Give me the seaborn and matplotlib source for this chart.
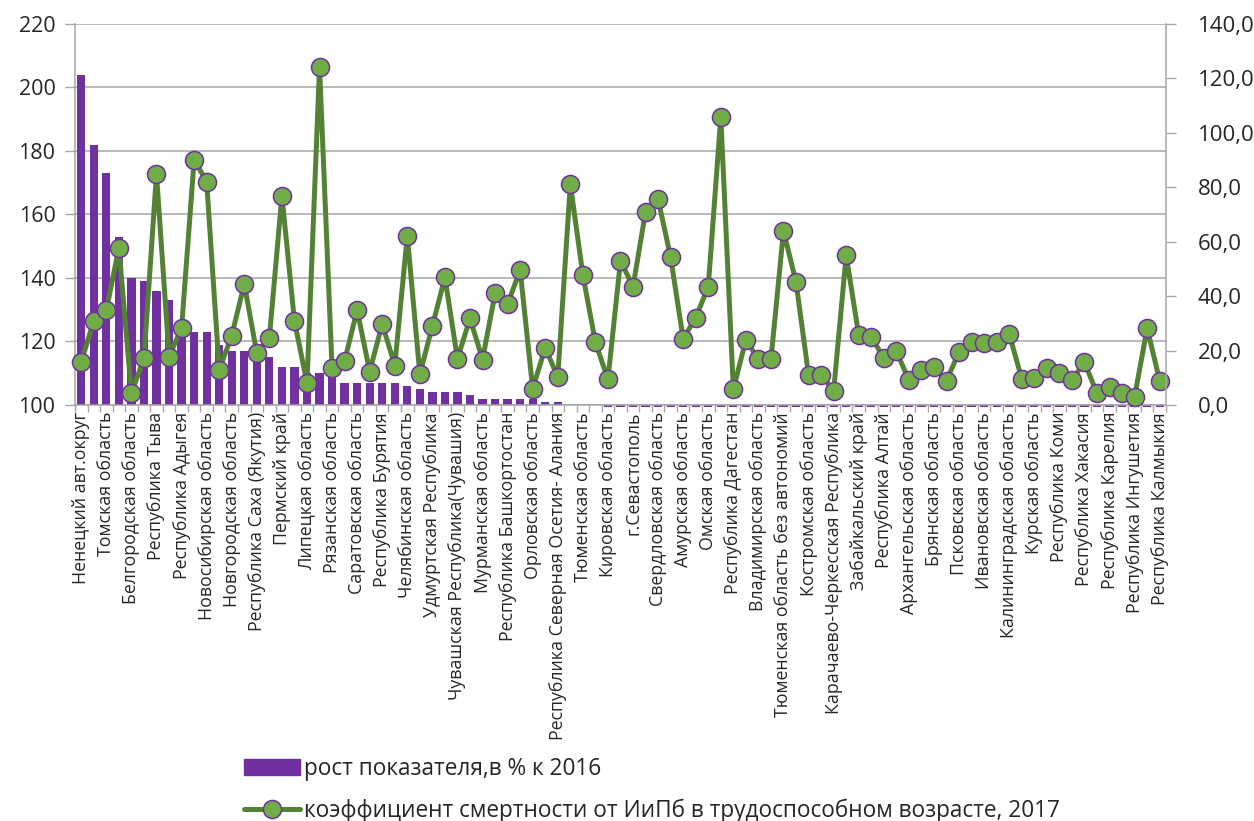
import numpy as np
import matplotlib
matplotlib.use('Agg')
import matplotlib.pyplot as plt
import seaborn as sns
from matplotlib.lines import Line2D
from matplotlib.patches import Patch

# подписи показаны через одну (как в исходной диаграмме)
region_labels = [
    'Ненецкий авт.округ', 'Томская область', 'Белгородская область', 'Республика Тыва',
    'Республика Адыгея', 'Новосибирская область', 'Новгородская область',
    'Республика Саха (Якутия)', 'Пермский край', 'Липецкая область', 'Рязанская область',
    'Саратовская область', 'Республика Бурятия', 'Челябинская область',
    'Удмуртская Республика', 'Чувашская Республика(Чувашия)', 'Мурманская область',
    'Республика Башкортостан', 'Орловская область', 'Республика Северная Осетия- Алания',
    'Тюменская область', 'Кировская область', 'г.Севастополь', 'Свердловская область',
    'Амурская область', 'Омская область', 'Республика Дагестан', 'Владимирская область',
    'Тюменская область без автономий', 'Костромская область',
    'Карачаево-Черкесская Республика', 'Забайкальский край', 'Республика Алтай',
    'Архангельская область', 'Брянская область', 'Псковская область', 'Ивановская область',
    'Калининградская область', 'Курская область', 'Республика Коми', 'Республика Хакасия',
    'Республика Карелия', 'Республика Ингушетия', 'Республика Калмыкия',
]

# рост показателя, % к 2016 (левая ось)
growth_pct = [
    204, 182, 173, 153, 140, 139, 136, 133, 123, 123,
    123, 119, 117, 117, 117, 115, 112, 112, 110, 110,
    110, 107, 107, 107, 107, 107, 106, 105, 104, 104,
    104, 103, 102, 102, 102, 102, 102, 101, 101, 100,
    100, 100, 99.5, 99.5, 99.5, 99.5, 99.5, 99.5, 99.5, 99.5,
    99.5, 99.5, 99.5, 99.5, 99.5, 99.5, 99.5, 99.5, 99.5, 99.5,
    99.5, 99.5, 99.5, 99.5, 99.5, 99.5, 99.5, 99.5, 99.5, 99.5,
    99.5, 99.5, 99.5, 99.5, 99.5, 99.5, 99.5, 99.5, 99.5, 99.5,
    99.5, 99.5, 99.5, 99.5, 99.5, 99.5, 99.5,
]

# коэффициент смертности от ИиПб в трудоспособном возрасте, 2017 (правая ось)
mortality = [
    15.9, 30.9, 34.9, 57.8, 4.3, 17.2, 84.9, 17.8, 28.2, 90.0,
    82.1, 12.9, 25.5, 44.5, 19.0, 24.7, 76.9, 30.9, 8.0, 124.3,
    13.5, 16.2, 34.9, 12.3, 29.8, 14.5, 62.2, 11.3, 29.0, 46.9,
    17.0, 31.8, 16.7, 41.0, 37.1, 49.6, 5.9, 21.1, 10.2, 81.2,
    47.8, 23.0, 9.4, 53.0, 43.5, 71.0, 75.6, 54.3, 24.3, 32.1,
    43.5, 105.9, 5.8, 23.9, 16.8, 16.8, 64.0, 45.1, 11.0, 11.0,
    5.3, 55.0, 25.6, 25.1, 17.2, 19.7, 9.2, 12.9, 14.1, 8.9,
    19.6, 23.0, 22.7, 23.0, 26.1, 9.6, 10.0, 13.5, 11.6, 9.2,
    15.7, 4.3, 6.5, 4.3, 3.1, 28.2, 8.9,
]

bar_label = 'рост показателя,в % к 2016'
line_label = 'коэффициент смертности от ИиПб в трудоспособном возрасте, 2017'

bar_color = '#7030A0'
line_color = '#548235'
marker_face = '#70AD47'
grid_color = '#A6A6A6'

sns.set_theme(style='white')
plt.rcParams['font.family'] = ['Open Sans', 'DejaVu Sans']

positions = np.arange(len(growth_pct))
heights = np.array(growth_pct) - 100

fig = plt.figure(figsize=(12.54, 8.21), dpi=100)
ax = fig.add_axes([0.0598, 0.5067, 0.8700, 0.4641])

# столбцы от уровня 100
sns.barplot(x=positions, y=heights, bottom=100, color=bar_color, saturation=1,
            width=0.66, linewidth=0, ax=ax, clip_on=False)
ax.set_ylim(100, 220)
ax.set_xlim(-0.5, len(positions) - 0.5)
ax.set_yticks(range(100, 221, 20))
ax.set_xticks(positions[::2])
ax.set_xticklabels(region_labels, rotation=90, fontsize=12.8)
ax.set_xticks(np.arange(-0.5, len(positions), 1), minor=True)
ax.tick_params(axis='x', which='major', length=0, pad=5)
ax.tick_params(axis='x', which='minor', length=5, width=1, color=grid_color, direction='out', bottom=True)
ax.tick_params(axis='y', length=7, width=1, color=grid_color, direction='out', labelsize=15.5, left=True, pad=7)
ax.yaxis.grid(True, color=grid_color, linewidth=1.1)
ax.set_axisbelow(True)
ax.set_xlabel('')
ax.set_ylabel('')
for side in ['top', 'right']:
    ax.spines[side].set_visible(False)
for side in ['left', 'bottom']:
    ax.spines[side].set_color(grid_color)
    ax.spines[side].set_linewidth(1.1)

# линия на правой оси
ax2 = ax.twinx()
sns.lineplot(x=positions, y=mortality, ax=ax2, color=line_color, linewidth=3.6,
             marker='o', markersize=13, markerfacecolor=marker_face,
             markeredgecolor=bar_color, markeredgewidth=1.1, clip_on=False)
ax2.set_ylim(0, 140)
ax2.set_xlim(-0.5, len(positions) - 0.5)
ax2.set_yticks(range(0, 141, 20))
ax2.set_yticklabels([f'{v},0' for v in range(0, 141, 20)])
ax2.tick_params(axis='y', length=7, width=1, color=grid_color, direction='out', labelsize=16, right=True, pad=16)
ax2.set_ylabel('')
for side in ['top', 'left', 'bottom']:
    ax2.spines[side].set_visible(False)
ax2.spines['right'].set_color(grid_color)
ax2.spines['right'].set_linewidth(1.1)

handles = [
    Patch(color=bar_color, label=bar_label),
    Line2D([], [], color=line_color, linewidth=3.6, marker='o', markersize=13,
           markerfacecolor=marker_face, markeredgecolor=bar_color, markeredgewidth=1.1,
           label=line_label),
]
fig.legend(handles=handles, loc='lower left', bbox_to_anchor=(0.178, -0.027), frameon=False,
           fontsize=16.3, handlelength=2.5, handletextpad=0.15, labelspacing=0.78)

fig.savefig('out.png', dpi=100)
